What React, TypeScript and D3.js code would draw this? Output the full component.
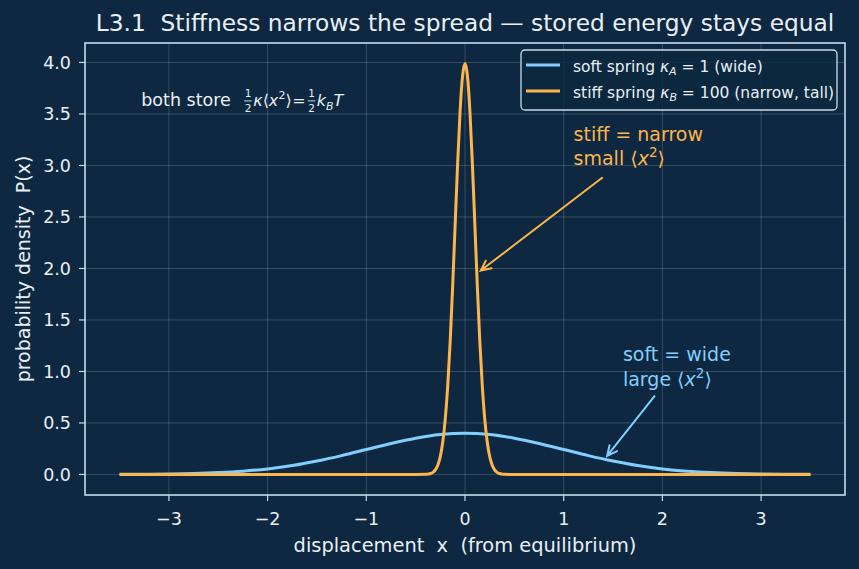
import * as d3 from "d3";

const W = 859;
const H = 569;
const margin = { top: 43, right: 14, bottom: 74, left: 85 };

const BG = "#0d2840";
const INK = "#e9eff5";
const SPINE = "#c8dbec";
const SOFT = "#82cfff";
const STIFF = "#fdb54c";
const FONT = "DejaVu Sans, sans-serif";

// soft spring, kappa_A = 1
const softX = [
  -3.5, -3.25, -3, -2.75, -2.5, -2.25, -2, -1.75, -1.5, -1.25, -1, -0.75, -0.5, -0.25, 0,
  0.25, 0.5, 0.75, 1, 1.25, 1.5, 1.75, 2, 2.25, 2.5, 2.75, 3, 3.25, 3.5,
];
const softP = [
  0.001, 0.002, 0.004, 0.009, 0.018, 0.032, 0.054, 0.086, 0.13, 0.183, 0.242, 0.301, 0.352, 0.387, 0.399,
  0.387, 0.352, 0.301, 0.242, 0.183, 0.13, 0.086, 0.054, 0.032, 0.018, 0.009, 0.004, 0.002, 0.001,
];

// stiff spring, kappa_B = 100
const stiffX = [
  -3.5, -1, -0.5, -0.4, -0.375, -0.35, -0.325, -0.3, -0.275, -0.25, -0.225, -0.2, -0.175, -0.15, -0.125,
  -0.1, -0.075, -0.05, -0.025, 0, 0.025, 0.05, 0.075, 0.1, 0.125, 0.15, 0.175, 0.2, 0.225, 0.25, 0.275,
  0.3, 0.325, 0.35, 0.375, 0.4, 0.5, 1, 3.5,
];
const stiffP = [
  0, 0, 0, 0.001, 0.003, 0.009, 0.02, 0.044, 0.091, 0.175, 0.317, 0.54, 0.863, 1.295, 1.826,
  2.42, 3.011, 3.521, 3.866, 3.989, 3.866, 3.521, 3.011, 2.42, 1.826, 1.295, 0.863, 0.54, 0.317, 0.175, 0.091,
  0.044, 0.02, 0.009, 0.003, 0.001, 0, 0, 0,
];

const xTicks = [-3, -2, -1, 0, 1, 2, 3];
const yTicks = [0, 0.5, 1, 1.5, 2, 2.5, 3, 3.5, 4];

// callouts: text anchor, arrow tail and arrow tip in data units
const notes = [
  { lines: ["stiff = narrow", "small"], at: [1.1, 3.0], tail: [1.39, 2.88], tip: [0.16, 1.98], color: STIFF },
  { lines: ["soft = wide", "large"], at: [1.6, 0.86], tail: [1.92, 0.76], tip: [1.44, 0.18], color: SOFT },
];

export default function App() {
  const iw = W - margin.left - margin.right;
  const ih = H - margin.top - margin.bottom;

  const x = d3.scaleLinear().domain([-3.85, 3.85]).range([0, iw]);
  const y = d3.scaleLinear().domain([-0.1995, 4.189]).range([ih, 0]);

  const line = d3
    .line<[number, number]>()
    .x((d) => x(d[0]))
    .y((d) => y(d[1]))
    .curve(d3.curveMonotoneX);

  const softPath = line(softX.map((v, i) => [v, softP[i]]))!;
  const stiffPath = line(stiffX.map((v, i) => [v, stiffP[i]]))!;

  const fmtX = (v: number) => (v < 0 ? "\u2212" + Math.abs(v) : String(v));

  const arrow = (tail: number[], tip: number[]) => {
    const x1 = x(tail[0]), y1 = y(tail[1]);
    const x2 = x(tip[0]), y2 = y(tip[1]);
    const a = Math.atan2(y2 - y1, x2 - x1);
    const hl = 11, hw = 0.45;
    const p1 = [x2 - hl * Math.cos(a - hw), y2 - hl * Math.sin(a - hw)];
    const p2 = [x2 - hl * Math.cos(a + hw), y2 - hl * Math.sin(a + hw)];
    return `M${x1},${y1}L${x2},${y2}M${p1[0]},${p1[1]}L${x2},${y2}L${p2[0]},${p2[1]}`;
  };

  // stacked 1/2 used in the energy formula
  const half = (dx: number, w: number) => (
    <g transform={`translate(${dx},0)`}>
      <text x={w / 2} y={-8.5} textAnchor="middle" fontSize={10.5}>1</text>
      <line x1={0} x2={w} y1={-4.6} y2={-4.6} stroke={INK} strokeWidth={0.9} />
      <text x={w / 2} y={6.5} textAnchor="middle" fontSize={10.5}>2</text>
    </g>
  );

  // math pieces laid out from their advance widths (DejaVu, 16px / 11px)
  const mf = 16;
  const sf = 11;

  return (
    <svg width={W} height={H} style={{ position: "absolute", left: 0, top: 0, background: BG }} fontFamily={FONT}>
      <rect width={W} height={H} fill={BG} />
      <text x={465} y={31} textAnchor="middle" fill={INK} fontSize={23.3}>
        L3.1{"\u00a0\u00a0"}Stiffness narrows the spread — stored energy stays equal
      </text>

      <g transform={`translate(${margin.left},${margin.top})`}>
        {/* grid */}
        {xTicks.map((t) => (
          <line key={"gx" + t} x1={x(t)} x2={x(t)} y1={0} y2={ih} stroke="#ffffff" strokeOpacity={0.22} strokeWidth={0.8} />
        ))}
        {yTicks.map((t) => (
          <line key={"gy" + t} x1={0} x2={iw} y1={y(t)} y2={y(t)} stroke="#ffffff" strokeOpacity={0.22} strokeWidth={0.8} />
        ))}

        <path d={softPath} fill="none" stroke={SOFT} strokeWidth={3} strokeLinejoin="round" />
        <path d={stiffPath} fill="none" stroke={STIFF} strokeWidth={3} strokeLinejoin="round" />

        {/* frame */}
        <rect x={0} y={0} width={iw} height={ih} fill="none" stroke={SPINE} strokeWidth={1.6} />

        {/* x axis */}
        {xTicks.map((t) => (
          <g key={"tx" + t} transform={`translate(${x(t)},${ih})`}>
            <line y1={0} y2={6} stroke={SPINE} strokeWidth={1.2} />
            <text y={30} textAnchor="middle" fill={INK} fontSize={17.5}>{fmtX(t)}</text>
          </g>
        ))}
        {/* y axis */}
        {yTicks.map((t) => (
          <g key={"ty" + t} transform={`translate(0,${y(t)})`}>
            <line x1={-6} x2={0} stroke={SPINE} strokeWidth={1.2} />
            <text x={-14} dy="0.36em" textAnchor="end" fill={INK} fontSize={17.5}>{t.toFixed(1)}</text>
          </g>
        ))}

        <text x={iw / 2} y={ih + 57} textAnchor="middle" fill={INK} fontSize={19.4}>
          displacement{"\u00a0\u00a0"}x{"\u00a0\u00a0"}(from equilibrium)
        </text>
        <text transform={`translate(${-55},${ih / 2}) rotate(-90)`} textAnchor="middle" fill={INK} fontSize={19}>
          probability density{"\u00a0\u00a0"}P(x)
        </text>

        {/* energy formula */}
        <g transform={`translate(${x(-3.28)},${y(3.582)})`} fill={INK} fontSize={mf}>
          <text x={0} fontSize={17.5}>both store</text>
          {half(103, 7.5)}
          <text x={112} fontStyle="italic">κ</text>
          <text x={121.4}>⟨</text>
          <text x={127.6} fontStyle="italic">x</text>
          <text x={137.3} y={-7} fontSize={sf}>2</text>
          <text x={144.3}>⟩</text>
          <text x={151}>=</text>
          {half(166.5, 7.5)}
          <text x={175.5} fontStyle="italic">k</text>
          <text x={184.8} y={4} fontStyle="italic" fontSize={sf}>B</text>
          <text x={192.3} fontStyle="italic">T</text>
        </g>

        {/* callouts */}
        {notes.map((n) => (
          <g key={n.lines[0]}>
            <path d={arrow(n.tail, n.tip)} fill="none" stroke={n.color} strokeWidth={2} strokeLinecap="round" />
            <text x={x(n.at[0])} y={y(n.at[1]) - 24.5} fill={n.color} fontSize={19}>{n.lines[0]}</text>
            <text x={x(n.at[0])} y={y(n.at[1])} fill={n.color} fontSize={19}>
              {n.lines[1]} ⟨<tspan fontStyle="italic">x</tspan>
              <tspan dy={-8} fontSize={13.5}>2</tspan>
              <tspan dy={8}>⟩</tspan>
            </text>
          </g>
        ))}

        {/* legend */}
        <g transform={`translate(${436},${7})`}>
          <rect x={0} y={0} width={316} height={60} rx={4} fill={BG} fillOpacity={0.85} stroke={SPINE} strokeWidth={1.3} />
          <line x1={5} x2={39} y1={15} y2={15} stroke={SOFT} strokeWidth={3} />
          <text x={52} y={22} fill={INK} fontSize={15.5}>
            soft spring <tspan fontStyle="italic">κ</tspan>
            <tspan fontStyle="italic" fontSize={11} dy={3}>A</tspan>
            <tspan dy={-3}> = 1 (wide)</tspan>
          </text>
          <line x1={5} x2={39} y1={41} y2={41} stroke={STIFF} strokeWidth={3} />
          <text x={52} y={48} fill={INK} fontSize={15.5}>
            stiff spring <tspan fontStyle="italic">κ</tspan>
            <tspan fontStyle="italic" fontSize={11} dy={3}>B</tspan>
            <tspan dy={-3}> = 100 (narrow, tall)</tspan>
          </text>
        </g>
      </g>
    </svg>
  );
}
